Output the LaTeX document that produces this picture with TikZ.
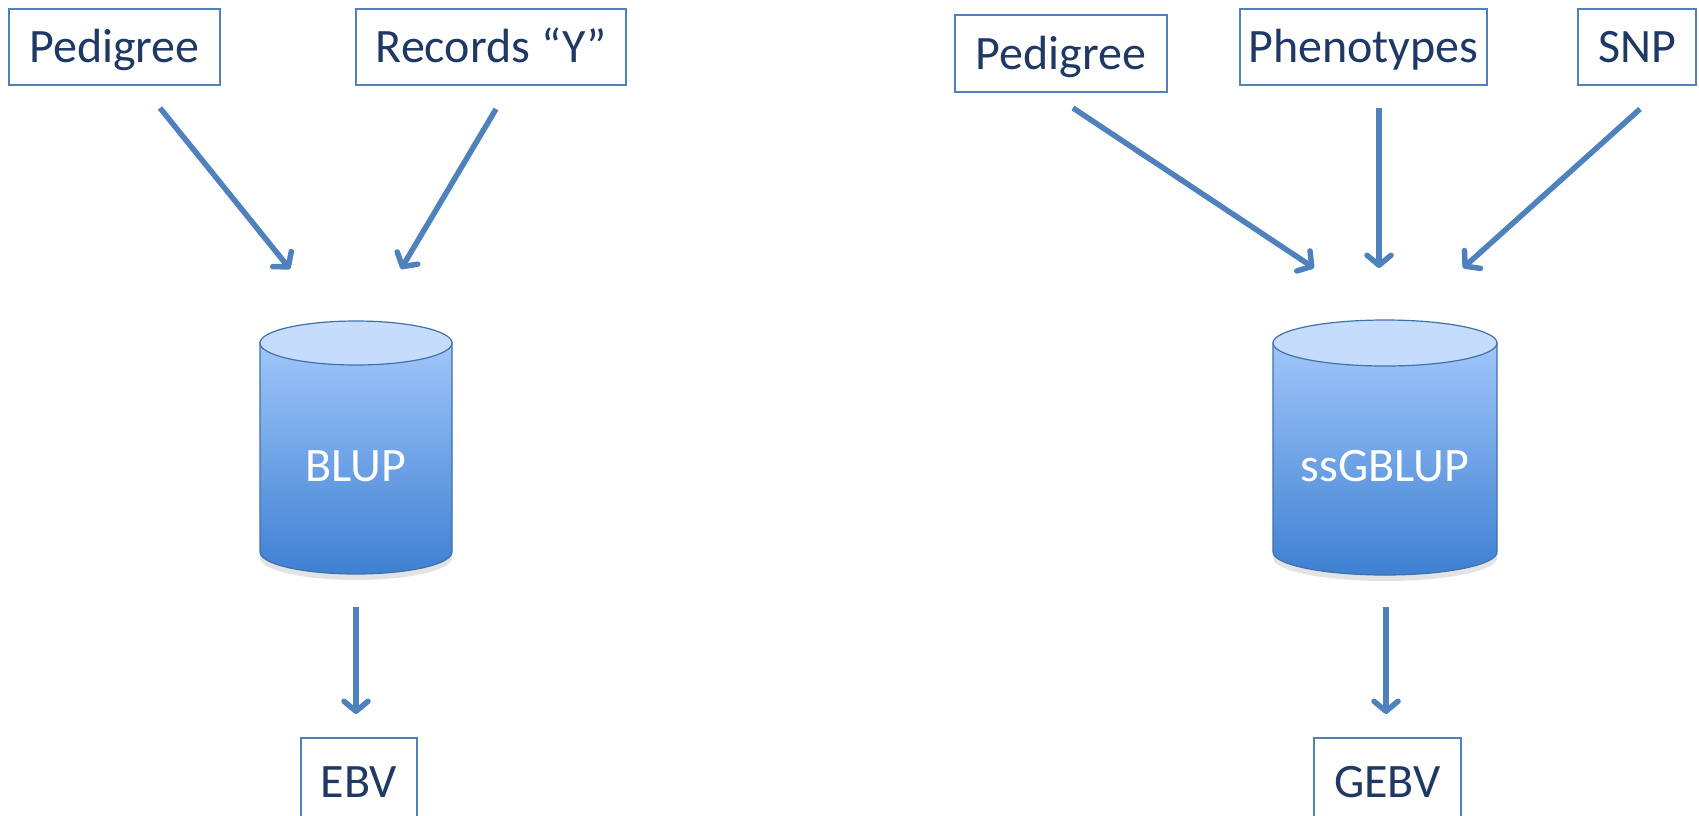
\documentclass[tikz,border=0pt]{standalone}
\usepackage{fontspec}
\setmainfont{Carlito}
\usetikzlibrary{arrows.meta,shadows}
\definecolor{boxblue}{RGB}{79,129,189}
\definecolor{txtblue}{RGB}{31,56,100}
\definecolor{cyltop}{RGB}{197,220,252}
\definecolor{cylhi}{RGB}{160,198,250}
\definecolor{cyllo}{RGB}{62,128,210}
\definecolor{cylline}{RGB}{65,113,170}
\tikzset{
  inbox/.style={draw=boxblue, line width=1.5pt, text=txtblue,
    font=\fontsize{48}{52}\selectfont, text height=31pt, text depth=0pt,
    inner sep=0pt, minimum height=76pt},
  cyltext/.style={text=white, font=\fontsize{48}{52}\selectfont,
    text height=31pt, text depth=0pt, inner sep=0pt},
  cylbody/.style={draw=cylline, line width=1.2pt, top color=cylhi, bottom color=cyllo,
    drop shadow={opacity=0.22, shadow xshift=0pt, shadow yshift=-6pt}},
  cyllid/.style={draw=cylline, line width=1.2pt, fill=cyltop},
  flow/.style={draw=boxblue, line width=5.5pt,
    -{Straight Barb[length=10pt,width=24pt,line cap=round,line join=round]}}
}
\begin{document}
\begin{tikzpicture}[x=1pt,y=-1pt]
\useasboundingbox (0,0) rectangle (1699,815);
\fill[white] (0,0) rectangle (1699,815);

% ---- left: BLUP ----
\node[inbox, minimum width=211pt] (ped1) at (114.5,47) {Pedigree};
\node[inbox, minimum width=270pt] (rec) at (491,47) {Records “Y”};
\node[inbox, minimum width=116pt, minimum height=88pt] (ebv) at (359,782) {EBV};

\path[cylbody] (260,343) -- (260,552) arc (180:360:96pt and 22pt) -- (452,343) -- cycle;
\path[cyllid] (356,343) ellipse (96pt and 22pt);
\node[cyltext] (blup) at (356,466) {BLUP};

\coordinate (a1s) at (160,108);
\coordinate (a1e) at (290,269);
\coordinate (a2s) at (496,109);
\coordinate (a2e) at (401,269);
\coordinate (a3s) at (356,607);
\coordinate (a3e) at (356,714);
\draw[flow] (a1s) -- (a1e);
\draw[flow] (a2s) -- (a2e);
\draw[flow] (a3s) -- (a3e);

% ---- right: ssGBLUP ----
\node[inbox, minimum width=212pt, minimum height=77pt] (ped2) at (1061,53.5) {Pedigree};
\node[inbox, minimum width=247pt] (phen) at (1363.5,47) {Phenotypes};
\node[inbox, minimum width=118pt] (snp) at (1637,47) {SNP};
\node[inbox, minimum width=147pt, minimum height=88pt] (gebv) at (1387.5,782) {GEBV};

\path[cylbody] (1273,343) -- (1273,552) arc (180:360:112pt and 23pt) -- (1497,343) -- cycle;
\path[cyllid] (1385,343) ellipse (112pt and 23pt);
\node[cyltext] (ssg) at (1385,466) {ssGBLUP};

\coordinate (b1s) at (1073,108);
\coordinate (b1e) at (1314,268);
\coordinate (b2s) at (1379,108);
\coordinate (b2e) at (1379,268);
\coordinate (b3s) at (1640,109);
\coordinate (b3e) at (1463,268);
\coordinate (b4s) at (1386,607);
\coordinate (b4e) at (1386,714);
\draw[flow] (b1s) -- (b1e);
\draw[flow] (b2s) -- (b2e);
\draw[flow] (b3s) -- (b3e);
\draw[flow] (b4s) -- (b4e);
\end{tikzpicture}
\end{document}
